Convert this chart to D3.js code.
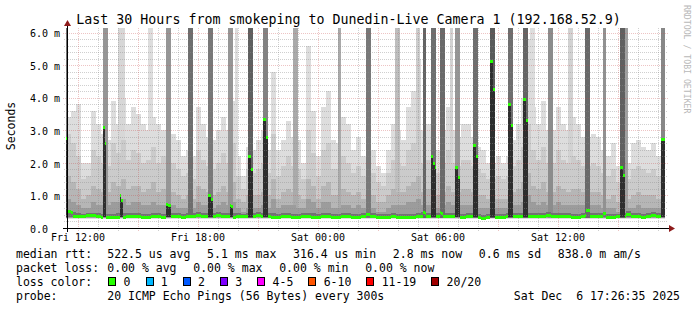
<!DOCTYPE html>
<html><head><meta charset="utf-8">
<script src="https://cdn.jsdelivr.net/npm/d3@7"></script>
<style>
html,body{margin:0;padding:0;background:#fff;}
svg{display:block;}
text{font-family:"DejaVu Sans Mono",monospace;fill:#000;white-space:pre;}
</style></head><body>
<svg id="c" width="697" height="310" xml:space="preserve"></svg>
<script>
// ---------------- data ----------------
const title = "Last 30 Hours from smokeping to Dunedin-Live Camera 1 (192.168.52.9)";
const yAxisTitle = "Seconds";
const watermark = "RRDTOOL / TOBI OETIKER";
const stepMinutes = 5;
const dataSteps = 359;
const yTicks = [0, 1, 2, 3, 4, 5, 6];
const yTickLabels = ["0.0", "1.0 m", "2.0 m", "3.0 m", "4.0 m", "5.0 m", "6.0 m"];
const xTickTimes = ["2025-12-05T12:00:00", "2025-12-05T18:00:00", "2025-12-06T00:00:00", "2025-12-06T06:00:00", "2025-12-06T12:00:00"];
const xTickLabels = ["Fri 12:00", "Fri 18:00", "Sat 00:00", "Sat 06:00", "Sat 12:00"];

// smoke band tops (ms), one value per 15 minutes (3 steps), outer -> inner
const light = [3.4,3.6,3.8,2.0,2.0,3.6,3.2,2.9,2.7,3.9, 3.2,4.0,3.2,3.7,3.5,3.2,3.0,3.4,3.2,3.0, 2.8,2.9,2.7,2.2,2.4,2.2,3.7,3.2,2.8,2.7, 3.0,3.4,3.0,3.9,2.2,1.6,2.5,2.4,2.7,3.0, 2.4,4.8,2.4,2.7,3.3,2.8,2.7,2.0,5.6,3.6, 2.2,3.7,4.2,2.7,2.6,3.4,3.2,2.4,2.8,2.2, 2.4,2.4,1.9,1.7,2.4,3.2,3.0,2.7,3.7,4.2, 5.2,3.0,3.2,3.0,2.4,3.0,3.7,3.0,2.8,3.2, 3.2,2.8,2.5,2.4,2.0,2.0,2.2,2.0,2.2,2.7, 3.2,4.0,5.8,3.7,3.2,3.9,3.0,3.0,3.7,3.2, 3.0,3.4,3.2,2.8,2.8,2.9,2.8,2.4,2.2,2.6, 1.9,2.0,2.0,2.6,2.7,2.5,2.4,2.6,2.2,2.4];
const mid1 = [2.9,2.6,2.2,1.5,1.6,2.4,2.2,2.0,1.9,2.6, 2.3,2.7,2.1,2.4,2.3,2.0,2.1,2.5,2.0,2.2, 1.9,2.0,1.8,1.6,1.7,1.5,2.4,2.1,1.9,1.8, 2.0,2.3,2.0,2.6,1.6,1.2,1.8,1.7,1.8,2.0, 1.7,2.9,1.6,1.9,2.2,1.9,1.8,1.5,3.0,2.3, 1.6,2.4,2.6,1.8,1.8,2.2,2.0,1.7,1.9,1.6, 1.7,1.7,1.4,1.3,1.7,2.1,2.0,1.9,2.4,2.6, 3.0,2.0,2.1,2.0,1.7,2.0,2.4,2.0,1.9,2.1, 2.1,1.9,1.8,1.7,1.5,1.5,1.6,1.5,1.6,1.9, 2.1,2.5,3.2,2.4,2.1,2.5,2.0,2.0,2.4,2.1, 2.0,2.2,2.1,1.9,1.9,2.0,1.9,1.7,1.6,1.8, 1.4,1.5,1.5,1.8,1.9,1.8,1.7,1.8,1.6,1.7];
const mid2 = [1.6,1.4,1.2,0.9,1.0,1.3,1.2,1.1,1.1,1.4, 1.3,1.5,1.2,1.3,1.3,1.1,1.2,1.4,1.1,1.2, 1.1,1.1,1.0,0.9,1.0,0.9,1.3,1.2,1.1,1.0, 1.1,1.3,1.1,1.4,0.9,0.8,1.0,1.0,1.0,1.1, 1.0,1.5,0.9,1.1,1.2,1.1,1.0,0.9,1.5,1.3, 0.9,1.3,1.4,1.0,1.0,1.2,1.1,1.0,1.1,0.9, 1.0,1.0,0.8,0.8,1.0,1.2,1.1,1.1,1.3,1.4, 1.6,1.1,1.2,1.1,1.0,1.1,1.3,1.1,1.1,1.2, 1.2,1.1,1.0,1.0,0.9,0.9,0.9,0.9,0.9,1.1, 1.2,1.4,1.7,1.3,1.2,1.4,1.1,1.1,1.3,1.2, 1.1,1.2,1.2,1.1,1.1,1.1,1.1,1.0,0.9,1.0, 0.8,0.9,0.9,1.0,1.1,1.0,1.0,1.0,0.9,1.0];
const mid3 = [0.9,0.8,0.7,0.6,0.6,0.8,0.7,0.7,0.7,0.8, 0.8,0.9,0.7,0.8,0.8,0.7,0.7,0.8,0.7,0.7, 0.7,0.7,0.6,0.6,0.6,0.6,0.8,0.7,0.7,0.6, 0.7,0.8,0.7,0.8,0.6,0.5,0.6,0.6,0.6,0.7, 0.6,0.9,0.6,0.7,0.7,0.7,0.6,0.6,0.9,0.8, 0.6,0.8,0.8,0.6,0.6,0.7,0.7,0.6,0.7,0.6, 0.6,0.6,0.5,0.5,0.6,0.7,0.7,0.7,0.8,0.8, 0.9,0.7,0.7,0.7,0.6,0.7,0.8,0.7,0.7,0.7, 0.7,0.7,0.6,0.6,0.6,0.6,0.6,0.6,0.6,0.7, 0.7,0.8,1.0,0.8,0.7,0.8,0.7,0.7,0.8,0.7, 0.7,0.7,0.7,0.7,0.7,0.7,0.7,0.6,0.6,0.6, 0.5,0.6,0.6,0.6,0.7,0.6,0.6,0.6,0.6,0.6];
const dark = [0.50,0.48,0.46,0.44,0.45,0.47,0.45,0.44,0.42,0.43, 0.45,0.47,0.46,0.47,0.46,0.44,0.44,0.46,0.45,0.44, 0.45,0.46,0.45,0.44,0.45,0.47,0.48,0.46,0.45,0.46, 0.49,0.47,0.45,0.45,0.45,0.44,0.46,0.47,0.49,0.47, 0.45,0.46,0.44,0.45,0.45,0.44,0.44,0.45,0.46,0.45, 0.44,0.46,0.46,0.44,0.44,0.45,0.45,0.44,0.44,0.45, 0.46,0.45,0.43,0.43,0.44,0.45,0.44,0.43,0.42,0.44, 0.45,0.48,0.46,0.46,0.45,0.46,0.46,0.45,0.44,0.44, 0.45,0.45,0.42,0.41,0.42,0.44,0.44,0.44,0.45,0.45, 0.46,0.46,0.47,0.46,0.45,0.46,0.49,0.47,0.46,0.45, 0.45,0.44,0.44,0.45,0.46,0.45,0.45,0.45,0.44,0.44, 0.44,0.47,0.51,0.47,0.45,0.44,0.47,0.49,0.45,0.46];
const bandFloor = [0.27, 0.30, 0.31, 0.32, 0.33];

// median rtt (ms), one value per 15 minutes
const median = [0.36,0.36,0.37,0.38,0.40,0.39,0.36,0.34,0.33,0.33, 0.34,0.35,0.36,0.37,0.36,0.35,0.35,0.36,0.36,0.35, 0.35,0.36,0.36,0.35,0.36,0.38,0.39,0.37,0.36,0.37, 0.40,0.38,0.36,0.35,0.36,0.36,0.37,0.38,0.40,0.38, 0.36,0.35,0.35,0.36,0.36,0.35,0.35,0.36,0.36,0.35, 0.35,0.36,0.36,0.35,0.35,0.36,0.36,0.35,0.35,0.36, 0.37,0.36,0.35,0.35,0.35,0.36,0.35,0.34,0.33,0.35, 0.36,0.38,0.36,0.37,0.36,0.37,0.36,0.36,0.35,0.35, 0.36,0.36,0.33,0.32,0.33,0.35,0.35,0.35,0.36,0.36, 0.36,0.36,0.36,0.36,0.36,0.36,0.40,0.38,0.37,0.36, 0.36,0.35,0.35,0.36,0.37,0.36,0.36,0.36,0.35,0.35, 0.36,0.38,0.42,0.38,0.36,0.35,0.38,0.40,0.36,0.37];

// spikes: 5-minute step index, gray level of smoke reaching the top, medians per step (null = normal)
const spikeStep = [0,1,22,31,49,60,73,85,97,101, 109,118,136,163,180,197,210,214,219,224, 230,233,244,254,265,274,278,289,301,311, 322,332,335,357];
const spikeGray = [110,null,150,215,221,150,110,120,150,221, 95,130,170,170,120,190,205,100,110,105, 210,150,110,90,110,100,221,140,210,105, 145,95,160,135];
const spikeMedian = [[2.75],[0.53,0.53,0.5],[3.1,2.6,null],[null,1.0,0.85,null],[null,null,null],[0.75,0.72,0.7],[null,null,null],[1.0,1.0,0.9],[null,0.7,0.68],[null,null],
  [2.2,2.2,1.8],[3.35,3.35,2.8],[null,null,null],[null,null],[0.42,0.42,null],[null,null,null],[null,null],[0.5,0.45],[2.2,2.0,1.86],[0.5,0.45,null],
  [null,null],[1.86,1.86,1.57],[2.56,2.56,2.2],[5.13,5.13,4.28],[3.8,3.8,3.15],[3.97,3.97,3.32],[null,null,null],[null,null,null],[null,null,null],[0.4,0.55,0.55],
  [0.45,0.45],[1.86,1.86,1.63],[null,null],[2.74,2.74]];

// legend
const legendHeads = ["median rtt:", "packet loss:", "loss color:", "probe:"];
const rttStats = ["522.5 us avg", "5.1 ms max", "316.4 us min", "2.8 ms now", "0.6 ms sd", "838.0 m am/s"];
const lossStats = ["0.00 % avg", "0.00 % max", "0.00 % min", "0.00 % now"];
const lossLabels = ["0", "1", "2", "3", "4-5", "6-10", "11-19", "20/20"];
const probeText = "20 ICMP Echo Pings (56 Bytes) every 300s";
const stampText = "Sat Dec  6 17:26:35 2025";

// ---------------- styles ----------------
const bandColors = ["#dddddd", "#cbcbcb", "#b6b6b6", "#9c9c9c", "#727272"];
const bandGray = [221, 203, 182, 156, 114];
const lossColors = ["#26ff00", "#00b8ff", "#0059ff", "#7e00ff", "#ff00ff", "#ff5500", "#ff0000", "#a00000"];

// ---------------- chart ----------------
const svg = d3.select("#c");
const t0 = new Date(2025, 11, 5, 11, 26, 35);
const t1 = new Date(2025, 11, 6, 17, 26, 35);
const stepTime = s => new Date(t0.getTime() + s * stepMinutes * 60000);

const xs = d3.scaleTime().domain([t0, t1]).range([66.4, 666.4]);
const yMax = 6.14;
const ys = d3.scaleLinear().domain([0, yMax]).range([228, 28]);
const X = s => Math.round(xs(stepTime(Math.min(s, dataSteps))));
const Y = v => Math.round(ys(Math.min(v, yMax)));

const smoke = svg.append("g").attr("shape-rendering", "crispEdges");
const bands = [light, mid1, mid2, mid3, dark];

function drawBand(k) {
  const arr = bands[k];
  const g = smoke.append("g").attr("fill", bandColors[k]);
  arr.forEach((v, i) => {
    const x0 = X(i * 3), x1 = X(i * 3 + 3);
    if (x1 <= x0) return;
    const yt = Y(v), yb = Y(bandFloor[k]);
    g.append("rect").attr("x", x0).attr("width", x1 - x0).attr("y", yt).attr("height", Math.max(0, yb - yt));
  });
}
function drawSpikes(filter) {
  spikeStep.forEach((s0, j) => {
    const gv = spikeGray[j];
    if (gv == null || !filter(gv)) return;
    const n = spikeMedian[j].length;
    const x0 = X(s0), x1 = X(s0 + n);
    const yt = Y(yMax), yb = Y(0.3);
    smoke.append("rect").attr("x", x0).attr("width", Math.max(1, x1 - x0)).attr("y", yt).attr("height", yb - yt)
      .attr("fill", d3.rgb(gv, gv, gv));
  });
}
for (let k = 0; k < 5; k++) {
  drawBand(k);
  const hi = bandGray[k], lo = k < 4 ? bandGray[k + 1] : -1;
  drawSpikes(g => g <= hi && g > lo);
}
// elevated medians: darkest smoke below the median
spikeStep.forEach((s0, j) => {
  spikeMedian[j].forEach((m, q) => {
    if (m == null || m < 0.6) return;
    const x0 = X(s0 + q), x1 = X(s0 + q + 1);
    smoke.append("rect").attr("x", x0).attr("width", Math.max(1, x1 - x0)).attr("y", Y(m)).attr("height", Y(0.33) - Y(m)).attr("fill", "#2e2e2e");
  });
});

// grid (drawn over the smoke, like rrdtool)
const minorCol = "rgba(140,140,140,0.42)", majorCol = "rgba(200,70,70,0.32)";
const grid = svg.append("g").attr("shape-rendering", "crispEdges").attr("stroke-dasharray", "1,1").attr("stroke-width", 1);
for (let k = 1; k * 0.2 < yMax; k++) {
  const v = +(k * 0.2).toFixed(1);
  if (k % 5 === 0) continue;
  const y = Math.round(ys(v)) + 0.5;
  grid.append("line").attr("x1", 64).attr("x2", 668).attr("y1", y).attr("y2", y).attr("stroke", minorCol);
}
d3.timeHour.range(t0, t1).forEach(h => {
  if (h.getHours() % 3 === 0) return;
  const x = Math.round(xs(h)) + 0.5;
  grid.append("line").attr("x1", x).attr("x2", x).attr("y1", 28).attr("y2", 231).attr("stroke", minorCol);
});
yTicks.slice(1).forEach(v => {
  const y = Math.round(ys(v)) + 0.5;
  grid.append("line").attr("x1", 63).attr("x2", 668).attr("y1", y).attr("y2", y).attr("stroke", majorCol);
});
d3.timeHour.range(t0, t1).forEach(h => {
  if (h.getHours() % 3 !== 0) return;
  const x = Math.round(xs(h)) + 0.5;
  grid.append("line").attr("x1", x).attr("x2", x).attr("y1", 28).attr("y2", 232).attr("stroke", majorCol);
});

// median line (loss colour 0), one short band per step
const medGroup = svg.append("g").attr("shape-rendering", "crispEdges").attr("fill", lossColors[0]);
const medSteps = [];
for (let s = 0; s < dataSteps; s++) medSteps.push(median[Math.floor(s / 3)]);
spikeStep.forEach((s0, j) => spikeMedian[j].forEach((m, q) => { if (m != null) medSteps[s0 + q] = m; }));
medSteps.forEach((m, s) => {
  const x0 = X(s), x1 = X(s + 1);
  const yc = Math.round(ys(m));
  medGroup.append("rect").attr("x", x0).attr("width", Math.max(1, x1 - x0)).attr("y", yc - 1).attr("height", 3);
});

// axes lines and arrows
const ax = svg.append("g").attr("shape-rendering", "crispEdges");
ax.append("line").attr("x1", 63).attr("x2", 669).attr("y1", 228.5).attr("y2", 228.5).attr("stroke", "#000");
ax.append("line").attr("x1", 67.5).attr("x2", 67.5).attr("y1", 232).attr("y2", 24).attr("stroke", "#000");
svg.append("path").attr("d", "M669,225L675,228.5L669,232Z").attr("fill", "#8e1b1b");
svg.append("path").attr("d", "M64,26L67.5,20L71,26Z").attr("fill", "#8e1b1b");

// x axis labels via d3 axis
const xAxis = d3.axisBottom(xs).tickValues(xTickTimes.map(s => new Date(s))).tickFormat((d, i) => xTickLabels[i]).tickSize(0);
const gx = svg.append("g").attr("transform", "translate(0,228)").call(xAxis);
gx.select(".domain").remove();
gx.selectAll("text").attr("y", 13).attr("dy", null).attr("font-size", 10).attr("font-family", "DejaVu Sans Mono").attr("fill", "#000");

// y axis labels via d3 axis
const yAxis = d3.axisLeft(ys).tickValues(yTicks).tickFormat((d, i) => yTickLabels[i]).tickSize(0);
const gy = svg.append("g").call(yAxis);
gy.select(".domain").remove();
gy.selectAll("text").attr("x", 30).attr("dy", "0.42em").attr("text-anchor", "start").attr("font-size", 10).attr("font-family", "DejaVu Sans Mono").attr("fill", "#000");

// title, axis title, watermark
svg.append("text").attr("x", 348.5).attr("y", 24).attr("text-anchor", "middle").attr("font-size", 13.3).text(title);
svg.append("text").attr("transform", "translate(15,126) rotate(-90)").attr("text-anchor", "middle").attr("font-size", 11.5).text(yAxisTitle);
svg.append("text").attr("transform", "translate(684,5) rotate(90)").attr("font-size", 8.2).style("fill", "#b8b8b8").text(watermark);

// legend
const LF = 11.5, col2 = 107.3, gap = 16.7;
const lineY = [258, 272, 286, 300];
legendHeads.forEach((h, i) => svg.append("text").attr("x", 16).attr("y", lineY[i]).attr("font-size", LF).text(h));
function row(items, y) {
  let x = col2;
  items.forEach(t => {
    const el = svg.append("text").attr("x", x).attr("y", y).attr("font-size", LF).text(t);
    x += el.node().getComputedTextLength() + gap;
  });
}
row(rttStats, lineY[0]);
row(lossStats, lineY[1]);
{
  let x = 108.3;
  lossLabels.forEach((t, i) => {
    svg.append("rect").attr("x", x + 0.5).attr("y", 277.5).attr("width", 7).attr("height", 8).attr("fill", lossColors[i]).attr("stroke", "#000").attr("stroke-width", 1).attr("shape-rendering", "crispEdges");
    const el = svg.append("text").attr("x", x + 15.3).attr("y", lineY[2]).attr("font-size", LF).text(t);
    x = x + 15.3 + el.node().getComputedTextLength() + 15;
  });
}
svg.append("text").attr("x", col2).attr("y", lineY[3]).attr("font-size", LF).text(probeText);
svg.append("text").attr("x", 680).attr("y", lineY[3]).attr("text-anchor", "end").attr("font-size", LF).text(stampText);
</script>
</body></html>
